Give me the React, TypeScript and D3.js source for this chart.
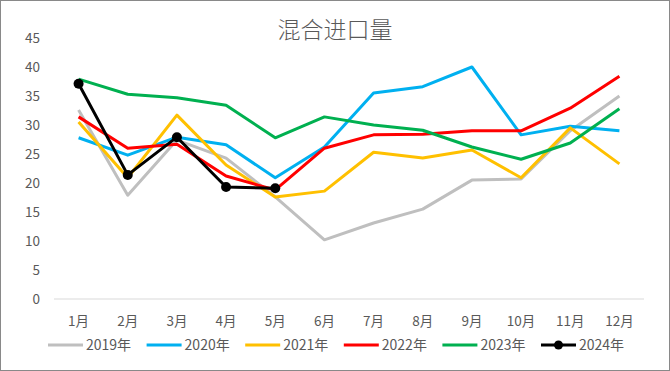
import React, { useEffect, useRef } from "react";
import * as d3 from "d3";

const months = ["1月", "2月", "3月", "4月", "5月", "6月", "7月", "8月", "9月", "10月", "11月", "12月"];
const yTicks = [0, 5, 10, 15, 20, 25, 30, 35, 40, 45];

const v2019 = [32.6, 17.9, 27.4, 24.3, 17.6, 10.2, 13.1, 15.5, 20.5, 20.7, 29.0, 35.0];
const v2020 = [27.8, 24.8, 27.9, 26.6, 20.9, 26.2, 35.5, 36.6, 40.0, 28.3, 29.8, 29.0];
const v2021 = [30.5, 20.9, 31.7, 23.1, 17.6, 18.6, 25.3, 24.3, 25.7, 20.9, 29.5, 23.3];
const v2022 = [31.4, 26.0, 26.7, 21.2, 18.8, 26.0, 28.3, 28.4, 29.0, 29.0, 32.9, 38.4];
const v2023 = [37.9, 35.3, 34.7, 33.4, 27.8, 31.4, 30.0, 29.1, 26.2, 24.1, 26.9, 32.8];
const v2024 = [37.1, 21.4, 27.9, 19.3, 19.1];

const series = [
  { name: "2019年", color: "#BFBFBF", values: v2019, marker: false },
  { name: "2020年", color: "#00B0F0", values: v2020, marker: false },
  { name: "2021年", color: "#FFC000", values: v2021, marker: false },
  { name: "2022年", color: "#FF0000", values: v2022, marker: false },
  { name: "2023年", color: "#00B050", values: v2023, marker: false },
  { name: "2024年", color: "#000000", values: v2024, marker: true },
];

const W = 670, H = 371;
const font = "'Noto Sans CJK SC', 'Noto Sans', sans-serif";

export default function App() {
  const ref = useRef<SVGSVGElement>(null);

  useEffect(() => {
    document.body.style.margin = "0";
    const svg = d3.select(ref.current);
    svg.selectAll("*").remove();

    const left = 54, right = 644, top = 38, bottom = 299;

    const x = d3.scaleBand().domain(months).range([left, right]);
    const y = d3.scaleLinear().domain([0, 45]).range([bottom, top]);

    svg.append("rect")
      .attr("x", 0.5).attr("y", 0.5)
      .attr("width", W - 1).attr("height", H - 1)
      .attr("fill", "#fff").attr("stroke", "#898989");

    svg.append("text")
      .attr("x", 335).attr("y", 38)
      .attr("text-anchor", "middle")
      .attr("font-family", font).attr("font-size", 23)
      .attr("font-weight", 300)
      .attr("fill", "#595959")
      .text("混合进口量");

    // baseline
    svg.append("line")
      .attr("x1", left).attr("x2", right)
      .attr("y1", y(0)).attr("y2", y(0))
      .attr("stroke", "#D9D9D9").attr("stroke-width", 1);

    svg.append("g").selectAll("text")
      .data(yTicks).enter().append("text")
      .attr("x", 40).attr("y", (d) => y(d))
      .attr("dy", "0.35em")
      .attr("text-anchor", "end")
      .attr("font-family", font).attr("font-size", 13.5)
      .attr("fill", "#595959")
      .text((d) => d);

    svg.append("g").selectAll("text")
      .data(months).enter().append("text")
      .attr("x", (d) => x(d)! + x.bandwidth() / 2).attr("y", 321)
      .attr("dy", "0.35em")
      .attr("text-anchor", "middle")
      .attr("font-family", font).attr("font-size", 13.5)
      .attr("fill", "#595959")
      .text((d) => d);

    const line = d3.line<number>()
      .x((d, i) => x(months[i])! + x.bandwidth() / 2)
      .y((d) => y(d));

    series.forEach((s) => {
      svg.append("path")
        .datum(s.values)
        .attr("d", line)
        .attr("fill", "none")
        .attr("stroke", s.color)
        .attr("stroke-width", 3)
        .attr("stroke-linejoin", "round");
      if (s.marker) {
        svg.append("g").selectAll("circle")
          .data(s.values).enter().append("circle")
          .attr("cx", (d, i) => x(months[i])! + x.bandwidth() / 2)
          .attr("cy", (d) => y(d))
          .attr("r", 5)
          .attr("fill", s.color);
      }
    });

    // legend
    const lg = svg.append("g");
    series.forEach((s, i) => {
      const lx = 48 + i * 98.6;
      const ly = 345;
      lg.append("line")
        .attr("x1", lx).attr("x2", lx + 35)
        .attr("y1", ly).attr("y2", ly)
        .attr("stroke", s.color).attr("stroke-width", 3);
      if (s.marker) {
        lg.append("circle").attr("cx", lx + 17.5).attr("cy", ly).attr("r", 4.5).attr("fill", s.color);
      }
      lg.append("text")
        .attr("x", lx + 38).attr("y", ly)
        .attr("dy", "0.35em")
        .attr("font-family", font).attr("font-size", 14)
        .attr("fill", "#595959")
        .text(s.name);
    });
  }, []);

  return <svg ref={ref} width={W} height={H} style={{ display: "block" }} />;
}
